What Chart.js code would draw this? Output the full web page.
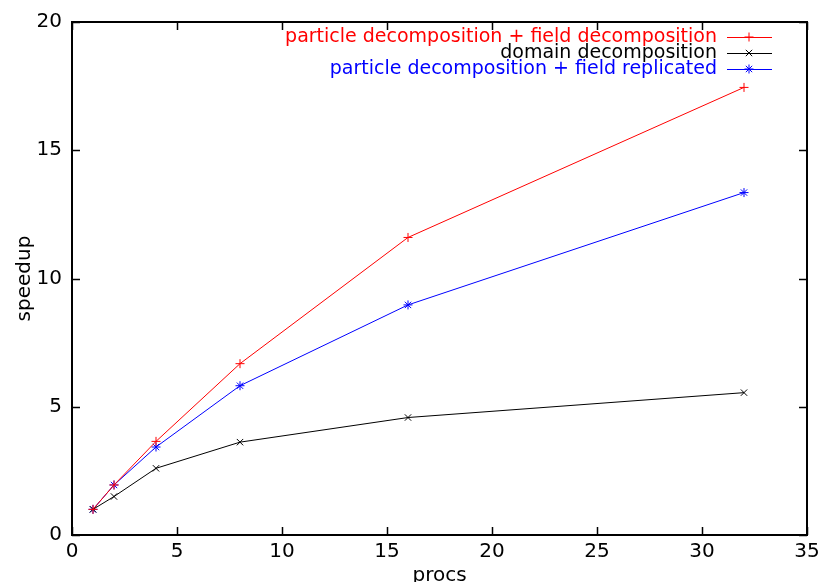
<!DOCTYPE html>
<html>
<head>
<meta charset="utf-8">
<script src="https://cdn.jsdelivr.net/npm/chart.js@4/dist/chart.umd.min.js"></script>
<style>
  html, body { margin: 0; padding: 0; background: #fff; }
  #wrap { width: 826px; height: 582px; }
</style>
</head>
<body>
<div id="wrap"><canvas id="speedup"></canvas></div>
<script>
// processors
var procs = [1, 2, 4, 8, 16, 32];
// speedup series
var partFieldDecomp = [1, 1.95, 3.65, 6.68, 11.6, 17.45];
var domainDecomp = [1, 1.5, 2.6, 3.62, 4.58, 5.55];
var partFieldRepl = [1, 1.95, 3.43, 5.82, 8.97, 13.35];
var labels = [
    'particle decomposition + field decomposition',
    'domain decomposition',
    'particle decomposition + field replicated'
];
var xTicks = [0, 5, 10, 15, 20, 25, 30, 35];
var yTicks = [0, 5, 10, 15, 20];

function pts(vals) {
    return procs.map(function (p, i) { return { x: p, y: vals[i] }; });
}

var FONT = '"DejaVu Sans", Verdana, sans-serif';

// gnuplot-like frame, inward ticks and legend
var gnuplotFrame = {
    id: 'gnuplotFrame',
    afterDatasetsDraw: function (chart) {
        var ctx = chart.ctx;
        var a = chart.chartArea;
        var xs = chart.scales.x, ys = chart.scales.y;
        var tl = 8;
        ctx.save();
        ctx.strokeStyle = '#000';
        ctx.lineWidth = 1.5;
        ctx.beginPath();
        xTicks.forEach(function (v) {
            var px = Math.round(xs.getPixelForValue(v)) + 0.5;
            ctx.moveTo(px, a.bottom); ctx.lineTo(px, a.bottom - tl);
            ctx.moveTo(px, a.top); ctx.lineTo(px, a.top + tl);
        });
        yTicks.forEach(function (v) {
            var py = Math.round(ys.getPixelForValue(v)) + 0.5;
            ctx.moveTo(a.left, py); ctx.lineTo(a.left + tl, py);
            ctx.moveTo(a.right, py); ctx.lineTo(a.right - tl, py);
        });
        ctx.stroke();
        ctx.lineWidth = 2;
        ctx.strokeRect(a.left, a.top, a.right - a.left, a.bottom - a.top);

        // legend
        ctx.font = '19px ' + FONT;
        ctx.textAlign = 'right';
        ctx.textBaseline = 'middle';
        chart.data.datasets.forEach(function (ds, i) {
            var y = 37 + i * 16;
            ctx.fillStyle = ds.borderColor;
            ctx.fillText(ds.label, 717, y);
            ctx.strokeStyle = ds.borderColor;
            ctx.lineWidth = 1;
            ctx.beginPath();
            ctx.moveTo(727, y + 0.5); ctx.lineTo(772, y + 0.5);
            ctx.stroke();
            Chart.helpers.drawPoint(ctx, {
                pointStyle: ds.pointStyle, radius: 4.5, rotation: 0, borderWidth: 1
            }, 749, y);
        });
        ctx.restore();
    }
};

var ctx = document.getElementById('speedup').getContext('2d');
var chart = new Chart(ctx, {
    type: 'line',
    data: {
        datasets: [{
            label: labels[0],
            data: pts(partFieldDecomp),
            borderColor: '#ff0000',
            pointStyle: 'cross'
        }, {
            label: labels[1],
            data: pts(domainDecomp),
            borderColor: '#000000',
            pointStyle: 'crossRot'
        }, {
            label: labels[2],
            data: pts(partFieldRepl),
            borderColor: '#0000ff',
            pointStyle: 'star'
        }].map(function (d) {
            d.borderWidth = 1;
            d.pointRadius = 4.5;
            d.pointBorderWidth = 1;
            d.pointBorderColor = d.borderColor;
            d.backgroundColor = d.borderColor;
            d.fill = false;
            d.tension = 0;
            return d;
        })
    },
    options: {
        responsive: true,
        maintainAspectRatio: false,
        animation: false,
        layout: { padding: { top: 20, right: 19, left: 0, bottom: 0 } },
        plugins: { legend: { display: false }, tooltip: { enabled: false } },
        scales: {
            x: {
                type: 'linear', min: 0, max: 35,
                afterBuildTicks: function (s) { s.ticks = xTicks.map(function (v) { return { value: v }; }); },
                afterFit: function (s) { s.height = 47; },
                grid: { display: false, drawTicks: false },
                border: { display: false },
                ticks: { color: '#000', padding: 5, font: { family: FONT, size: 20 }, maxRotation: 0 },
                title: { display: true, text: 'procs', color: '#000', padding: { top: 0, bottom: -6 }, font: { family: FONT, size: 20 } }
            },
            y: {
                min: 0, max: 20,
                afterBuildTicks: function (s) { s.ticks = yTicks.map(function (v) { return { value: v }; }); },
                afterFit: function (s) { s.width = 72; },
                grid: { display: false, drawTicks: false },
                border: { display: false },
                ticks: { color: '#000', padding: 10, font: { family: FONT, size: 20 } },
                title: { display: true, text: 'speedup', color: '#000', padding: { top: 13 }, font: { family: FONT, size: 20 } }
            }
        }
    },
    plugins: [gnuplotFrame]
});
</script>
</body>
</html>
